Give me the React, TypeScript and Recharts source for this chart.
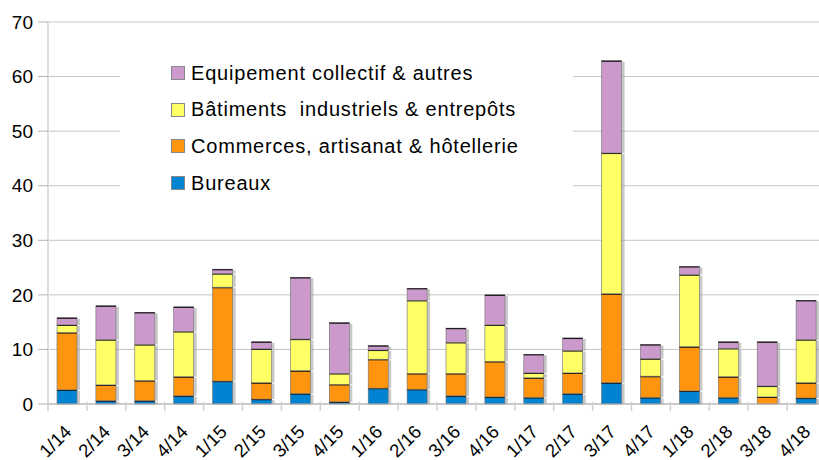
import React from 'react';
import {Bar, BarChart, CartesianGrid, Legend, XAxis, YAxis} from "recharts";

const quarters = ['1/14', '2/14', '3/14', '4/14', '1/15', '2/15', '3/15', '4/15', '1/16', '2/16',
    '3/16', '4/16', '1/17', '2/17', '3/17', '4/17', '1/18', '2/18', '3/18', '4/18'];
const bureaux = [2.6, 0.6, 0.6, 1.5, 4.2, 0.9, 1.9, 0.4, 2.9, 2.7, 1.5, 1.3, 1.2, 1.9, 3.9, 1.2, 2.4, 1.2, 0, 1.1];
const commerces = [10.5, 2.9, 3.7, 3.5, 17.2, 3.0, 4.2, 3.2, 5.3, 2.9, 4.1, 6.5, 3.6, 3.8, 16.3, 3.9, 8.1, 3.8, 1.3, 2.8];
const industriels = [1.4, 8.3, 6.6, 8.3, 2.5, 6.2, 5.8, 2.0, 1.7, 13.4, 5.7, 6.7, 0.9, 4.1, 25.8, 3.2, 13.2, 5.2, 2.0, 7.9];
const equipement = [1.3, 6.2, 5.9, 4.5, 0.8, 1.3, 11.3, 9.3, 0.8, 2.2, 2.6, 5.5, 3.4, 2.3, 16.9, 2.6, 1.5, 1.2, 8.1, 7.2];
const yTicks = [0, 10, 20, 30, 40, 50, 60, 70];

const series = [
    {key: "bureaux", name: "Bureaux", fill: "#0084d1"},
    {key: "commerces", name: "Commerces, artisanat & hôtellerie", fill: "#ff950e"},
    {key: "industriels", name: "Bâtiments  industriels & entrepôts", fill: "#ffff66"},
    {key: "equipement", name: "Equipement collectif & autres", fill: "#cc99cc"},
];

const data = quarters.map((q, i) => ({
    quarter: q,
    bureaux: bureaux[i],
    commerces: commerces[i],
    industriels: industriels[i],
    equipement: equipement[i],
}));

const FONT = '"Liberation Sans", Arial, sans-serif';

function SegmentShape(props: any) {
    const {x, y, width, height, fill} = props;
    if (!height || height <= 0) return null;
    return (
        <g>
            <rect x={x + width} y={y + 1} width={3} height={height - 1} fill="#9a9a9a" opacity={0.55}/>
            <rect x={x} y={y} width={width} height={height} fill={fill} stroke="#6e6e6e" strokeWidth={0.6}/>
            <line x1={x} x2={x + width} y1={y + 0.5} y2={y + 0.5} stroke="#1a1a1a" strokeWidth={1.2}/>
        </g>
    );
}

function XTick(props: any) {
    const {x, y, payload} = props;
    const half = payload && payload.offset ? payload.offset : 19.45;
    const tx = x + 5;
    const ty = y + 21;
    return (
        <g>
            <line x1={x - half} x2={x - half} y1={y - 10} y2={y - 1} stroke="#d0d0d0" strokeWidth={1.5}/>
            <text
                x={tx}
                y={ty}
                textAnchor="end"
                transform={`rotate(-45 ${tx} ${ty})`}
                fontSize={18.5}
                fontFamily={FONT}
                fill="#000"
            >
                {payload.value}
            </text>
        </g>
    );
}

function LegendBox() {
    const items = [...series].reverse();
    return (
        <div style={{background: "#fff", width: 453, height: 150, paddingTop: 5, boxSizing: "border-box"}}>
            {items.map((item) => (
                <div key={item.key} style={{display: "flex", alignItems: "center", height: 36.6, paddingLeft: 51}}>
                    <span style={{
                        width: 14, height: 14, backgroundColor: item.fill, border: "1px solid #888",
                        boxSizing: "border-box", marginRight: 6, display: "inline-block"
                    }}></span>
                    <span style={{fontFamily: FONT, fontSize: 20, letterSpacing: 0.8, color: "#000", whiteSpace: "pre"}}>{item.name}</span>
                </div>
            ))}
        </div>
    );
}

export default function App(): React.ReactElement {
    return (
        <div style={{position: "absolute", left: 0, top: 0, width: 819, height: 460, overflow: "hidden", background: "#fff"}}>
            <BarChart
                width={830}
                height={460}
                data={data}
                margin={{top: 22, right: 4, bottom: 0, left: 0}}
                barSize={20}
            >
                <CartesianGrid vertical={false} stroke="#c4c4c4"/>
                <XAxis
                    dataKey="quarter"
                    height={56}
                    interval={0}
                    tickLine={false}
                    axisLine={{stroke: "#b3b3b3"}}
                    tick={<XTick/>}
                />
                <YAxis
                    width={48}
                    domain={[0, 70]}
                    ticks={yTicks}
                    interval={0}
                    tickSize={10}
                    tickMargin={5}
                    tickLine={{stroke: "#b3b3b3"}}
                    axisLine={{stroke: "#dddddd", strokeWidth: 2}}
                    tick={{fontSize: 19, fill: "#000", fontFamily: FONT}}
                />
                <Legend
                    layout="vertical"
                    align="center"
                    verticalAlign="middle"
                    content={<LegendBox/>}
                    wrapperStyle={{position: "absolute", left: 120, top: 50, width: 453, height: 150}}
                />
                {series.map((s) => (
                    <Bar
                        key={s.key}
                        dataKey={s.key}
                        name={s.name}
                        stackId="a"
                        fill={s.fill}
                        shape={<SegmentShape/>}
                        isAnimationActive={false}
                    />
                ))}
            </BarChart>
        </div>
    );
}
